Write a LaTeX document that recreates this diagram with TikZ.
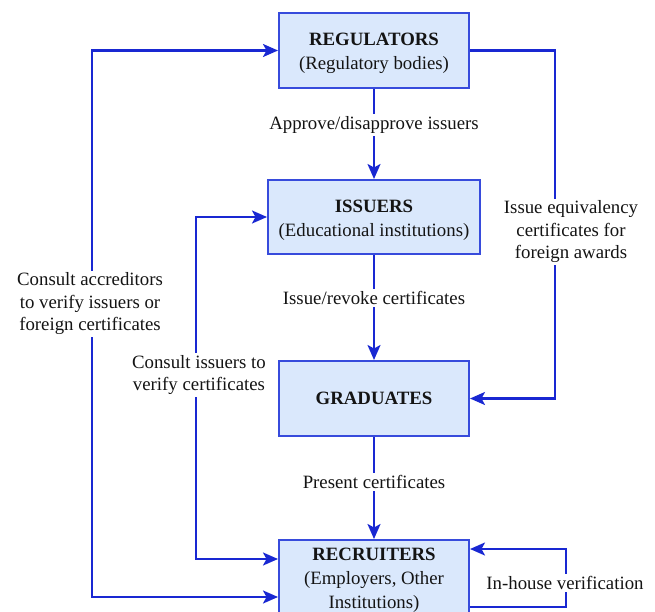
\documentclass[tikz,border=0pt]{standalone}
\usepackage{fontspec}
\setmainfont{Liberation Serif}
\usetikzlibrary{arrows.meta,calc}
\definecolor{boxfill}{RGB}{218,232,252}
\definecolor{boxline}{RGB}{55,75,220}
\definecolor{conncol}{RGB}{25,40,210}
\definecolor{txt}{RGB}{20,20,20}
\newcommand\tstrut{\rule{0pt}{18.5pt}}
\begin{document}
\begin{tikzpicture}[x=1pt,y=-1pt,
  >={Stealth[length=15pt,width=13pt,inset=3.5pt]},
  box/.style={draw=boxline,fill=boxfill,line width=2pt,minimum width=190pt,minimum height=75pt,
    align=center,inner sep=0pt,text=txt,font=\fontsize{18.8}{24}\selectfont},
  conn/.style={draw=conncol,line width=2.2pt},
  lbl/.style={fill=white,align=center,inner sep=2pt,text=txt,font=\fontsize{18.8}{22.5}\selectfont}]
\useasboundingbox (0,0) rectangle (655,612);

\node[box] (reg) at (374,50.5) {\tstrut\textbf{REGULATORS}\\(Regulatory bodies)};
\node[box,minimum width=212pt,minimum height=74pt] (iss) at (374,217) {\tstrut\textbf{ISSUERS}\\(Educational institutions)};
\node[box] (grad) at (374,398.5) {\textbf{GRADUATES}};
\node[box] (rec) at (374,577.5) {\tstrut\textbf{RECRUITERS}\\(Employers, Other\\Institutions)};

\draw[conn,->] (reg) -- node[lbl,pos=0.4] (l1) {Approve/disapprove issuers} (iss);
\draw[conn,->] (iss) -- node[lbl,pos=0.41] (l2) {Issue/revoke certificates} (grad);
\draw[conn,->] (grad) -- node[lbl,pos=0.44] (l3) {Present certificates} (rec);

\coordinate (r1) at (555,50.5);
\coordinate (r2) at (555,398.5);
\draw[conn,->] (reg.east) -- (r1) -- (r2) -- (grad.east);
\node[lbl] (l4) at (571,232) {Issue equivalency\\certificates for\\foreign awards};

\coordinate (o1) at (92,50.5);
\coordinate (o2) at (92,597);
\draw[conn,<->] (o2 -| rec.west) -- (o2) -- (o1) -- (reg.west);
\node[lbl] (l5) at (90,304) {Consult accreditors\\to verify issuers or\\foreign certificates};

\coordinate (i1) at (196,217);
\coordinate (i2) at (196,559);
\draw[conn,<->] (i2 -| rec.west) -- (i2) -- (i1) -- (iss.west);
\node[lbl] (l6) at (199,375) {Consult issuers to\\verify certificates};

\coordinate (h1) at (566,607);
\coordinate (h2) at (566,549);
\draw[conn,->] (h1 -| rec.east) -- (h1) -- (h2) -- (h2 -| rec.east);
\node[lbl] (l7) at (565,583) {In-house verification};
\end{tikzpicture}
\end{document}
